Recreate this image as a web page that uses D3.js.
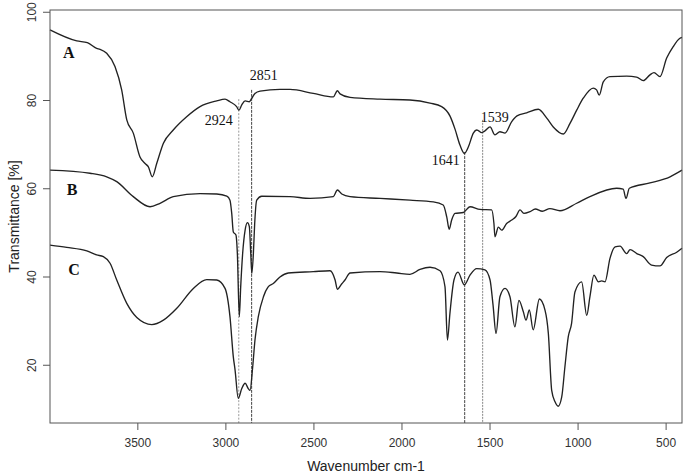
<!DOCTYPE html>
<html>
<head>
<meta charset="utf-8">
<script src="https://cdn.jsdelivr.net/npm/d3@7"></script>
<style>
  body { margin: 0; background: #fff; }
  .tick-label { font-family: "Liberation Sans", Arial, sans-serif; font-size: 12px; fill: #333; }
  .axis-title { font-family: "Liberation Sans", Arial, sans-serif; font-size: 14px; fill: #222; }
  .serif { font-family: "Liberation Serif", "Times New Roman", serif; fill: #111; }
</style>
</head>
<body>
<svg id="chart" width="685" height="474"></svg>
<script>
// [wavenumber, transmittance]
const specA = [
  [3996,95.9],[3844,93.4],[3784,93.0],[3731,91.7],[3712,91.5],[3674,90.6],[3627,87.6],[3589,82.3],
  [3560,75.5],[3523,72.5],[3485,67.1],[3456,65.6],[3438,64.9],[3415,62.6],[3390,65.6],[3352,70.2],
  [3296,73.2],[3220,76.2],[3144,78.5],[3049,79.8],[3002,80.2],[2974,79.6],[2936,78.5],[2923,77.7],
  [2907,78.9],[2888,79.8],[2864,79.6],[2850,80.4],[2832,81.5],[2803,82.0],[2690,82.4],[2633,82.4],
  [2501,81.5],[2387,80.7],[2364,82.1],[2349,81.4],[2292,80.6],[2122,80.2],[1952,80.0],[1838,79.3],
  [1772,78.5],[1725,76.4],[1696,73.4],[1668,69.8],[1643,67.9],[1620,69.4],[1592,72.5],[1573,73.2],
  [1554,72.8],[1548,72.6],[1526,73.0],[1497,73.9],[1469,72.1],[1441,72.8],[1412,72.5],[1374,75.1],
  [1344,76.4],[1289,77.1],[1223,77.9],[1175,75.9],[1138,73.9],[1081,72.3],[1043,74.7],[1005,77.7],
  [968,80.4],[911,82.7],[892,82.3],[877,81.1],[854,84.1],[816,85.3],[721,85.4],[665,85.2],
  [627,84.4],[589,85.7],[566,86.2],[532,85.3],[494,89.5],[457,92.1],[419,94.0],[407,94.2]
];

const specB = [
  [3996,64.1],[3769,63.4],[3674,62.6],[3617,61.5],[3523,58.1],[3428,55.8],[3371,56.6],[3296,58.1],
  [3144,58.8],[3049,58.7],[2992,58.2],[2974,57.3],[2964,54.3],[2955,50.1],[2940,49.4],[2932,45.2],
  [2921,30.9],[2913,37.7],[2902,45.2],[2888,50.5],[2875,52.2],[2864,51.3],[2856,45.2],[2850,40.7],
  [2841,45.2],[2834,51.7],[2822,57.3],[2794,58.2],[2633,58.1],[2519,57.7],[2387,58.1],[2364,59.6],
  [2339,58.7],[2292,58.1],[2122,57.7],[1952,57.3],[1819,56.9],[1763,56.2],[1743,53.5],[1729,50.7],
  [1715,52.8],[1696,54.3],[1649,54.5],[1611,55.8],[1554,55.2],[1488,55.1],[1475,52.0],[1469,49.0],
  [1450,51.2],[1431,50.5],[1403,52.0],[1374,52.8],[1350,53.6],[1327,55.1],[1305,54.3],[1270,54.7],
  [1240,55.3],[1200,54.8],[1157,55.4],[1100,54.9],[1005,56.6],[930,58.1],[778,60.0],[741,59.8],
  [725,57.7],[706,60.0],[589,61.2],[475,62.6],[407,64.1]
];

const specC = [
  [3996,47.1],[3901,46.6],[3787,45.8],[3731,44.9],[3693,44.5],[3655,43.0],[3617,39.2],[3560,33.9],
  [3503,30.7],[3418,29.1],[3352,30.1],[3276,32.8],[3182,37.3],[3106,39.3],[3049,39.2],[3002,37.3],
  [2974,30.9],[2955,21.8],[2945,18.8],[2927,12.4],[2907,14.6],[2888,15.8],[2870,14.6],[2860,14.2],
  [2845,19.5],[2832,25.6],[2813,30.9],[2784,35.4],[2756,37.7],[2728,38.4],[2690,39.9],[2643,40.8],
  [2501,41.1],[2406,41.3],[2377,39.2],[2364,37.1],[2340,38.3],[2321,39.2],[2292,40.8],[2122,41.1],
  [2027,40.8],[1952,40.5],[1895,41.6],[1838,42.1],[1781,41.3],[1753,37.7],[1739,25.6],[1725,31.6],
  [1702,39.2],[1679,41.0],[1643,38.1],[1611,40.3],[1573,41.8],[1526,41.5],[1497,39.2],[1480,33.5],
  [1463,27.1],[1441,35.4],[1412,37.3],[1384,35.4],[1356,28.6],[1333,34.6],[1308,32.0],[1293,30.1],
  [1274,32.4],[1252,27.9],[1217,34.9],[1185,32.4],[1166,27.1],[1147,14.2],[1128,11.6],[1110,10.6],
  [1090,12.7],[1072,19.5],[1053,26.3],[1034,29.4],[1015,36.5],[977,38.8],[948,31.2],[930,35.4],
  [907,40.3],[882,38.8],[863,39.0],[844,38.8],[816,44.1],[787,46.7],[759,46.9],[721,45.2],
  [702,46.1],[664,45.2],[627,44.5],[580,42.6],[532,42.4],[494,44.3],[437,45.5],[407,46.4]
];

const series = [
  { name: "A", data: specA, labelAt: [3890, 89.5] },
  { name: "B", data: specB, labelAt: [3870, 58.5] },
  { name: "C", data: specC, labelAt: [3860, 40.3] }
];

// marked peaks: wavenumber, transmittance where the guide line starts
const peakWn   = [2924, 2851, 1641, 1539];
const peakTop  = [80.2, 82.3, 68.2, 75.5];
const peakText = ["2924", "2851", "1641", "1539"];

const xTicks = [3500, 3000, 2500, 2000, 1500, 1000, 500];
const yTicks = [20, 40, 60, 80, 100];

const M = { left: 50, right: 3, top: 10, bottom: 51 };
const W = 685, H = 474;

const x = d3.scaleLinear().domain([3996, 407]).range([M.left, W - M.right]);
const y = d3.scaleLinear().domain([6.8, 100.4]).range([H - M.bottom, M.top]);

const svg = d3.select("#chart");

// guide lines under the spectra
const guideStyle = [
  { stroke: "#999", dash: "2,1.5" },
  { stroke: "#444", dash: "3,1" },
  { stroke: "#444", dash: "3,1" },
  { stroke: "#888", dash: "2,1" }
];
peakWn.forEach((wn, i) => {
  svg.append("line")
    .attr("x1", x(wn)).attr("x2", x(wn))
    .attr("y1", y(peakTop[i])).attr("y2", y.range()[0])
    .attr("stroke", guideStyle[i].stroke)
    .attr("stroke-width", 1)
    .attr("stroke-dasharray", guideStyle[i].dash);
});

const line = d3.line()
  .x(d => x(d[0]))
  .y(d => y(d[1]))
  .curve(d3.curveMonotoneX);

series.forEach(s => {
  svg.append("path")
    .datum(s.data)
    .attr("d", line)
    .attr("fill", "none")
    .attr("stroke", "#222")
    .attr("stroke-width", 1.35);

  svg.append("text")
    .attr("class", "serif")
    .attr("x", x(s.labelAt[0]))
    .attr("y", y(s.labelAt[1]))
    .attr("text-anchor", "middle")
    .style("font-size", "16px")
    .style("font-weight", "bold")
    .text(s.name);
});

// peak labels
const labelPos = [
  { dx: -6, dy: 26, anchor: "end" },
  { dx: -2, dy: -10, anchor: "start" },
  { dx: -5, dy: 13, anchor: "end" },
  { dx: -2, dy: 2, anchor: "start" }
];
peakWn.forEach((wn, i) => {
  svg.append("text")
    .attr("class", "serif")
    .attr("x", x(wn) + labelPos[i].dx)
    .attr("y", y(peakTop[i]) + labelPos[i].dy)
    .attr("text-anchor", labelPos[i].anchor)
    .style("font-size", "14px")
    .text(peakText[i]);
});

// frame
svg.append("rect")
  .attr("x", M.left).attr("y", M.top)
  .attr("width", W - M.left - M.right)
  .attr("height", H - M.top - M.bottom)
  .attr("fill", "none")
  .attr("stroke", "#555")
  .attr("stroke-width", 1);

const xAxis = svg.append("g")
  .attr("transform", `translate(0,${H - M.bottom})`)
  .call(d3.axisBottom(x).tickValues(xTicks).tickSize(7).tickPadding(8).tickFormat(d3.format("d")));
xAxis.select(".domain").remove();
xAxis.selectAll("line").attr("stroke", "#555");
xAxis.selectAll("text").attr("class", "tick-label").attr("fill", null);

const yAxis = svg.append("g")
  .attr("transform", `translate(${M.left},0)`)
  .call(d3.axisLeft(y).tickValues(yTicks).tickSize(7).tickFormat(d3.format("d")));
yAxis.select(".domain").remove();
yAxis.selectAll("line").attr("stroke", "#555");
yAxis.selectAll("text")
  .attr("class", "tick-label")
  .attr("fill", null)
  .attr("x", null).attr("dy", null)
  .attr("text-anchor", "middle")
  .attr("transform", "translate(-14,0) rotate(-90)");

svg.append("text")
  .attr("class", "axis-title")
  .attr("x", (M.left + W - M.right) / 2)
  .attr("y", 471)
  .attr("text-anchor", "middle")
  .text("Wavenumber cm-1");

svg.append("text")
  .attr("class", "axis-title")
  .attr("transform", `translate(19,${(M.top + H - M.bottom) / 2}) rotate(-90)`)
  .attr("text-anchor", "middle")
  .text("Transmittance [%]");
</script>
</body>
</html>
